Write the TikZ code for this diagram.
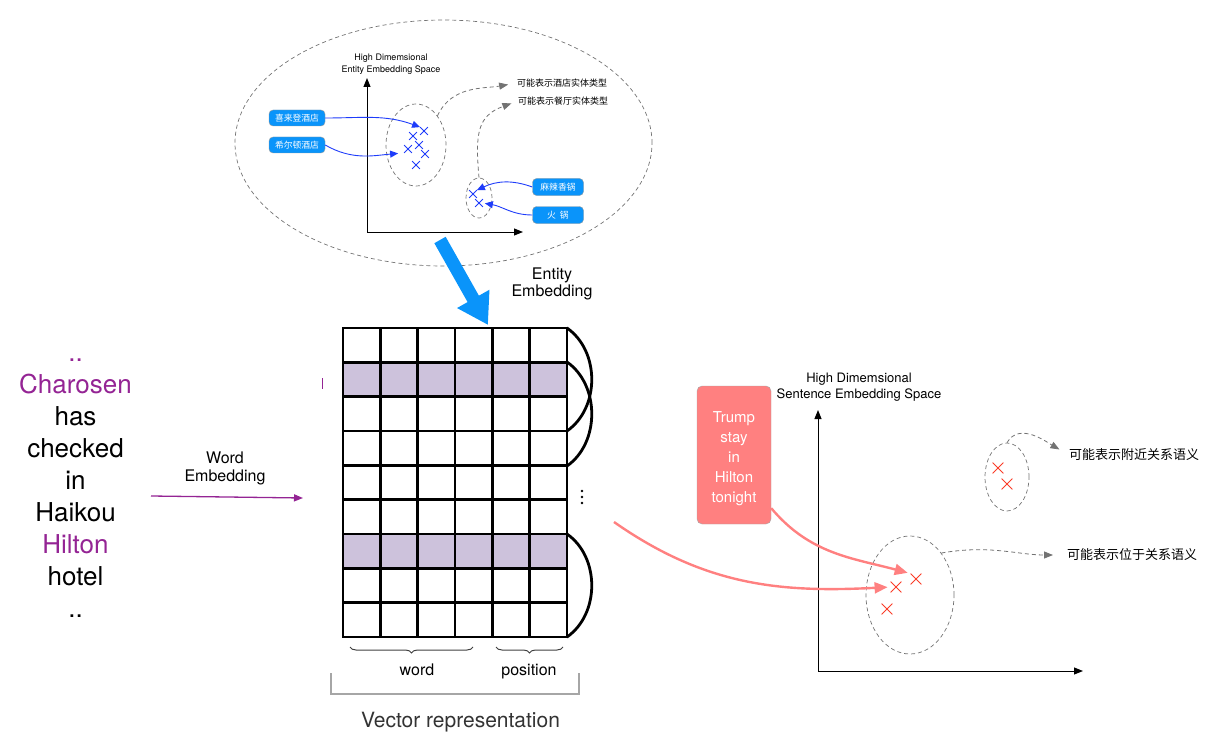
\documentclass[tikz,border=0pt]{standalone}
\usepackage{fontspec}
\setmainfont{TeX Gyre Heros}
\newfontfamily\cjk{Noto Sans CJK SC}
\usetikzlibrary{positioning}
\usetikzlibrary{shapes.geometric, shapes.misc, arrows.meta, decorations.pathreplacing}

\definecolor{azulent}{RGB}{10,148,250}
\definecolor{azulflecha}{RGB}{30,60,250}
\definecolor{morado}{RGB}{148,36,148}
\definecolor{lila}{RGB}{205,194,220}
\definecolor{salmon}{RGB}{255,128,128}
\definecolor{rojocruz}{RGB}{250,60,40}
\definecolor{grisdash}{RGB}{115,115,115}

\begin{document}
\begin{tikzpicture}[x=1pt, y=-1pt,
    entbox/.style={draw=gray!80, fill=azulent, rounded corners=4pt, text=white, minimum width=56pt, minimum height=16pt, inner sep=0pt, font=\cjk\fontsize{8.8}{10}\selectfont},
    xmark/.style={cross out, draw=azulflecha, line width=0.8pt, minimum size=7pt, inner sep=0pt},
    rmark/.style={cross out, draw=rojocruz, line width=0.8pt, minimum size=10pt, inner sep=0pt},
    dashell/.style={ellipse, draw=grisdash, dash pattern=on 4pt off 3pt, line width=0.7pt, inner sep=0pt},
    hintarrow/.style={draw=grisdash, dash pattern=on 4pt off 3pt, line width=0.8pt, -{Triangle[length=9pt, width=7pt]}},
    hinttext/.style={anchor=west, inner sep=0pt, font=\cjk\fontsize{9}{11}\selectfont},
    entarrow/.style={azulflecha, line width=0.9pt, -{Triangle[length=8pt, width=7pt]}},
    redarrow/.style={salmon, line width=2.4pt, -{Triangle[length=13pt, width=11pt]}},
    axisline/.style={black, line width=1pt, -{Triangle[length=9pt, width=7pt]}},
    matline/.style={black, line width=2.8pt, line cap=rect}]

    \useasboundingbox (0,0) rectangle (1208,733);

    % Espacio de entidades
    \node[dashell, minimum width=417pt, minimum height=246pt] (espacioent) at (443.5,143) {};
    \coordinate (eo) at (367,232);
    \coordinate (ey) at (367,78);
    \coordinate (ex) at (523,232);
    \draw[axisline] (eo) -- (ey);
    \draw[axisline] (eo) -- (ex);
    \node[font=\fontsize{9}{12}\selectfont, align=center, inner sep=0pt] (titent) at (391,64) {High Dimemsional\\Entity Embedding Space};

    % Grupos de entidades
    \node[dashell, minimum width=60pt, minimum height=82pt] (grupoh) at (416,145) {};
    \node[dashell, minimum width=26pt, minimum height=40pt] (grupor) at (479,198) {};
    \foreach \n/\px/\py in {xa/424/131, xb/413/136, xc/419/145, xd/408/149, xe/425/154, xf/416/165, ya/473/194, yb/479/203}
        \node[xmark] (\n) at (\px,\py) {};

    % Entidades con color
    \node[entbox] (sheraton) at (297,118) {喜来登酒店};
    \node[entbox] (hilton) at (297,145) {希尔顿酒店};
    \node[entbox, minimum width=51pt, minimum height=17pt] (malaxg) at (558,187) {麻辣香锅};
    \node[entbox, minimum width=51pt, minimum height=17pt] (huoguo) at (558,215) {火\ \ 锅};

    \draw[entarrow] (sheraton.east) to[out=0, in=160] (xa.north west);
    \draw[entarrow, shorten >=6pt] (hilton.east) to[out=-30, in=185] (xd.south west);
    \draw[entarrow] (malaxg.west) to[out=160, in=25] (ya.north east);
    \draw[entarrow, shorten >=2pt] (huoguo.west) to[out=180, in=-10] (yb.east);

    % Tipos de entidad
    \node[hinttext] (tipohotel) at (517,83) {可能表示酒店实体类型};
    \node[hinttext] (tiporest) at (518,101) {可能表示餐厅实体类型};
    \draw[hintarrow, shorten >=9pt] (grupoh.north east) to[out=65, in=190] (tipohotel.west);
    \draw[hintarrow, shorten >=7pt] (grupor.north) to[out=95, in=200, looseness=1.3] (tiporest.west);

    % Flecha Entity Embedding
    \coordinate (bajoent) at (440,240);
    \coordinate (mtop) at (488,325);
    \draw[azulent, line width=13pt, -{Triangle[length=30pt, width=35pt]}] (bajoent) -- (mtop);
    \node[font=\fontsize{16}{17}\selectfont, align=center, inner sep=0pt] (entemb) at (552,284) {Entity\\Embedding};

    % Palabras de entrada
    \foreach \w/\c [count=\i] in {../morado, Charosen/morado, has/black, checked/black, in/black, Haikou/black, Hilton/morado, hotel/black, ../black}
        \node[anchor=base, text=\c, font=\fontsize{26}{30}\selectfont, inner sep=0pt] (w\i) at (75.5,{329+32*\i}) {\w};

    \coordinate (wini) at (151,496);
    \coordinate (wfin) at (303,498);
    \draw[morado, line width=1.3pt, -{Triangle[length=9pt, width=7pt]}] (wini) -- (wfin);
    \node[font=\fontsize{16}{18}\selectfont, align=center, inner sep=0pt] (wordemb) at (225,468) {Word\\Embedding};

    % Matriz de vectores
    \fill[lila] (343,362) rectangle (567,397);
    \fill[lila] (343,534) rectangle (567,568);
    \foreach \i in {0,...,9}
        \draw[matline] (343,{328+34.33*\i}) -- (567,{328+34.33*\i});
    \foreach \j in {0,...,6}
        \draw[matline] ({343+37.33*\j},328) -- ({343+37.33*\j},637);
    \draw[matline, line cap=round] (567,328) .. controls (600,351) and (600,408) .. (567,431);
    \draw[matline, line cap=round] (567,362) .. controls (600,385) and (600,443) .. (567,466);
    \draw[matline, line cap=round] (567,534) .. controls (600,557) and (600,614) .. (567,637);
    \foreach \k in {0,1,2}
        \fill (582,{491+6*\k}) circle (1.3pt);
    \draw[morado, line width=1pt] (322,378) -- (322,389);

    % Llaves y corchete
    \draw[black!75, line width=1pt, decorate, decoration={brace, mirror, amplitude=6pt}] (350,647) -- (473,647);
    \draw[black!75, line width=1pt, decorate, decoration={brace, mirror, amplitude=6pt}] (496,647) -- (563,647);
    \node[anchor=base, font=\fontsize{16}{18}\selectfont] (lword) at (417,675) {word};
    \node[anchor=base, font=\fontsize{16}{18}\selectfont] (lpos) at (529,675) {position};
    \draw[gray!70, line width=1.4pt] (331,673) -- (331,694) -- (579,694) -- (579,673);
    \node[anchor=base, text=black!80, font=\fontsize{21}{24}\selectfont] (vecrep) at (460.5,727) {Vector representation};

    % Espacio de oraciones
    \coordinate (so) at (818,671);
    \coordinate (sy) at (818,410);
    \coordinate (sx) at (1083,671);
    \draw[axisline] (so) -- (sy);
    \draw[axisline] (so) -- (sx);
    \node[font=\fontsize{13}{16}\selectfont, align=center, inner sep=0pt] (titsent) at (859,387) {High Dimemsional\\Sentence Embedding Space};

    \node[draw=gray!70, fill=salmon, rounded corners=5pt, text=white, minimum width=74pt, minimum height=138pt, align=center, font=\fontsize{15}{20}\selectfont] (trump) at (734,455) {\rule{0pt}{19pt}Trump\\stay\\in\\Hilton\\tonight};

    \node[dashell, minimum width=88pt, minimum height=118pt] (grupoloc) at (910,595) {};
    \node[dashell, minimum width=44pt, minimum height=68pt] (grupocer) at (1007,477) {};
    \foreach \n/\px/\py in {ra/916/579, rb/896/587, rc/887/609, rd/998/468, re/1007/484}
        \node[rmark] (\n) at (\px,\py) {};

    \coordinate (mout) at (614,522);
    \draw[redarrow, shorten >=3pt] (trump.-55) to[out=-50, in=165] (ra.north west);
    \draw[redarrow, shorten >=3pt] (mout) to[out=-35, in=183] (rb.west);

    % Relaciones
    \node[hinttext, font=\cjk\fontsize{13}{15}\selectfont] (semcerca) at (1069,455) {可能表示附近关系语义};
    \node[hinttext, font=\cjk\fontsize{13}{15}\selectfont] (semloc) at (1067,555) {可能表示位于关系语义};
    \draw[hintarrow, shorten >=11pt] (grupocer.north) to[out=60, in=150] (semcerca.west);
    \draw[hintarrow, shorten >=14pt] (grupoloc.north east) to[out=10, in=180] (semloc.west);
\end{tikzpicture}
\end{document}
